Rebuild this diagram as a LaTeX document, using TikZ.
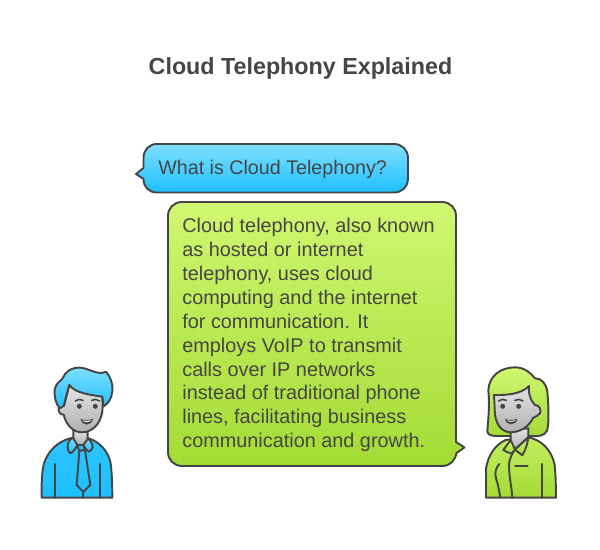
\documentclass[tikz,border=0pt]{standalone}
\usepackage{fontspec}
\usepackage{tikz}
\usetikzlibrary{positioning,calc}
\setmainfont{Liberation Sans}

\definecolor{inkgray}{HTML}{454545}
\definecolor{bluetop}{HTML}{7FDFFF}
\definecolor{bluebot}{HTML}{1EC0FF}
\definecolor{greentop}{HTML}{D0F771}
\definecolor{greenbot}{HTML}{A3DB35}
\definecolor{facetop}{HTML}{E4E4E4}
\definecolor{facebot}{HTML}{B0B0B0}

\tikzset{
    outline/.style={draw=inkgray, line width=1.1pt, line join=round, line cap=round},
    bluefill/.style={outline, top color=bluetop, bottom color=bluebot},
    greenfill/.style={outline, top color=greentop, bottom color=greenbot},
    facefill/.style={outline, top color=facetop, bottom color=facebot},
    bodyblue/.style={outline, top color=bluebot!85!bluetop, bottom color=bluebot},
    bodygreen/.style={outline, top color=greentop!70!greenbot, bottom color=greenbot},
    bubbletext/.style={text=inkgray, font=\fontsize{11.3}{13.6}\selectfont, align=left, inner sep=0pt}
}

\begin{document}
\begin{tikzpicture}[x=0.02cm, y=-0.02cm]
    \useasboundingbox (0,0) rectangle (600,550);

    % Title
    \node[text=inkgray, font=\fontsize{13.25}{16}\selectfont\bfseries] (title) at (300.5,68.5) {Cloud Telephony Explained};

    % Question bubble
    \draw[bluefill] (157,144) -- (394,144) .. controls (402,144) and (408,150) .. (408,158)
        -- (408,178) .. controls (408,187) and (402,192.5) .. (394,192.5) -- (157,192.5)
        .. controls (149,192.5) and (143.5,187) .. (143.5,179) -- (136,174) -- (143.5,168)
        -- (143.5,158) .. controls (143.5,150) and (149,144) .. (157,144) -- cycle;
    \node[bubbletext, font=\fontsize{11.2}{13.6}\selectfont, anchor=base west] (question) at (158,174.5) {What is Cloud Telephony?};

    % Answer bubble
    \draw[greenfill] (182,202) -- (442,202) .. controls (450,202) and (456,208) .. (456,216)
        -- (456,442) -- (464.5,447.5) -- (456.5,453) .. controls (455,461) and (450,466) .. (442,466)
        -- (182,466) .. controls (174,466) and (168,460) .. (168,452)
        -- (168,216) .. controls (168,208) and (174,202) .. (182,202) -- cycle;
    \node[bubbletext, anchor=north west] (answer) at (182,218) {Cloud telephony, also known\\
        as hosted or internet\\
        telephony, uses cloud\\
        computing and the internet\\
        for communication. It\\
        employs VoIP to transmit\\
        calls over IP networks\\
        instead of traditional phone\\
        lines, facilitating business\\
        communication and growth.};

    % Man
    \begin{scope}[shift={(20,350)}, scale=0.3333]
        \draw[bodyblue] (65,443) .. controls (64,400) and (66,360) .. (72,340)
            .. controls (85,300) and (115,275) .. (150,265) -- (205,265)
            .. controls (240,275) and (265,305) .. (272,340)
            .. controls (276,370) and (277,410) .. (277,443) -- cycle;
        \draw[facefill] (160,240) -- (160,272) -- (172,285) -- (190,285) -- (203,270) -- (203,240) -- cycle;
        \draw[bluefill] (158,262) .. controls (148,270) and (142,280) .. (143,292)
            .. controls (144,303) and (148,310) .. (152,310) .. controls (160,305) and (168,295) .. (172,285) -- cycle;
        \draw[bluefill] (205,265) .. controls (212,272) and (218,282) .. (218,292)
            .. controls (216,300) and (210,305) .. (205,305) .. controls (198,298) and (193,292) .. (190,285) -- cycle;
        \draw[bodyblue] (172,285) -- (190,285) -- (195,300) -- (178,303) -- cycle;
        \draw[bodyblue] (178,303) -- (170,405) -- (190,426) -- (211,405) -- (195,300) -- cycle;
        \draw[outline] (190,426) -- (190,443);
        \draw[outline] (105,342) -- (105,443);
        \draw[outline] (240,342) -- (240,443);
        \draw[facefill] (148,105) -- (132,168) .. controls (122,165) and (113,172) .. (116,183)
            .. controls (118,192) and (126,196) .. (131,194)
            .. controls (138,225) and (160,247) .. (185,247)
            .. controls (225,247) and (248,210) .. (248,170) -- (247,140) -- cycle;
        \draw[bluefill] (120,175) .. controls (108,165) and (102,140) .. (104,118)
            .. controls (108,100) and (122,92) .. (128,85)
            .. controls (135,65) and (155,52) .. (180,53)
            .. controls (205,54) and (235,78) .. (258,65)
            .. controls (272,80) and (280,105) .. (277,125)
            .. controls (275,145) and (265,162) .. (249,170)
            .. controls (250,160) and (250,150) .. (247,140)
            .. controls (215,135) and (165,130) .. (148,105)
            .. controls (142,125) and (135,150) .. (132,167) -- (120,175) -- cycle;
        \fill[inkgray] (178,169) circle (7.5);
        \fill[inkgray] (226,169) circle (7.5);
        \draw[outline, line width=0.9pt] (166,153) .. controls (172,147) and (182,147) .. (189,151);
        \draw[outline, line width=0.9pt] (215,151) .. controls (222,147) and (232,147) .. (239,153);
        \fill[inkgray] (182,207) .. controls (195,211) and (207,211) .. (219,206)
            .. controls (217,218) and (208,224) .. (200,224) .. controls (191,224) and (184,217) .. (182,207) -- cycle;
        \fill[white] (187,211) .. controls (196,214) and (206,214) .. (214,210) .. controls (208,218) and (193,218) .. (187,211) -- cycle;
    \end{scope}

    % Woman
    \begin{scope}[shift={(460,350)}, scale=0.3333]
        \draw[greenfill] (85,120) .. controls (88,75) and (125,52) .. (165,52)
            .. controls (195,52) and (212,70) .. (225,85)
            .. controls (245,85) and (258,100) .. (262,125)
            .. controls (265,160) and (268,210) .. (262,240)
            .. controls (255,258) and (235,260) .. (210,258) -- (110,258)
            .. controls (95,258) and (84,255) .. (82,245)
            .. controls (84,210) and (90,170) .. (85,120) -- cycle;
        \draw[bodygreen] (78,443) -- (78,355) .. controls (85,315) and (105,285) .. (137,270) -- (205,262)
            .. controls (245,270) and (275,300) .. (284,345) .. controls (287,375) and (288,410) .. (288,443) -- cycle;
        \draw[facefill] (152,240) -- (152,285) -- (162,300) -- (205,262) -- (205,235) -- cycle;
        \draw[greenfill] (152,270) .. controls (145,280) and (137,290) .. (130,300)
            .. controls (138,305) and (148,310) .. (155,311) -- (165,299) -- cycle;
        \draw[greenfill] (165,299) -- (187,316) .. controls (197,300) and (203,280) .. (205,262) -- cycle;
        \draw[outline] (160,305) .. controls (152,320) and (146,335) .. (147,350) .. controls (148,385) and (155,410) .. (157,443);
        \draw[outline] (118,342) .. controls (108,352) and (103,370) .. (108,385) .. controls (115,405) and (118,425) .. (121,443);
        \draw[outline] (245,342) -- (245,443);
        \draw[outline] (165,348) -- (203,348);
        \draw[facefill] (102,135) .. controls (140,136) and (185,132) .. (207,108)
            .. controls (205,130) and (210,150) .. (225,165)
            .. controls (238,165) and (245,180) .. (240,190)
            .. controls (235,198) and (225,200) .. (220,203)
            .. controls (205,232) and (180,247) .. (150,247)
            .. controls (125,245) and (110,225) .. (105,195) -- cycle;
        \fill[inkgray] (128,169) circle (7.5);
        \fill[inkgray] (176,169) circle (7.5);
        \draw[outline, line width=0.9pt] (116,153) .. controls (122,147) and (132,147) .. (139,151);
        \draw[outline, line width=0.9pt] (165,151) .. controls (172,147) and (182,147) .. (189,153);
        \fill[inkgray] (135,207) .. controls (147,211) and (160,211) .. (172,206)
            .. controls (170,218) and (161,223) .. (153,223) .. controls (144,223) and (137,217) .. (135,207) -- cycle;
        \fill[white] (140,211) .. controls (148,214) and (159,214) .. (167,210) .. controls (161,217) and (146,217) .. (140,211) -- cycle;
    \end{scope}
\end{tikzpicture}
\end{document}
